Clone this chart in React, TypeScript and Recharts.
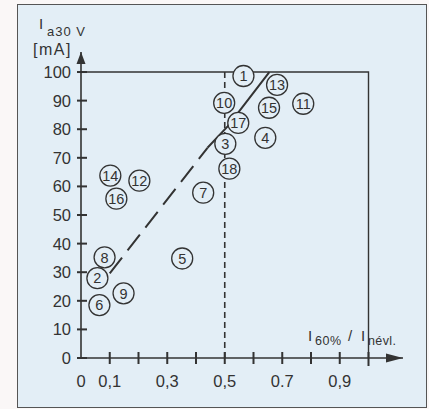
import { ComposedChart, Line, Scatter, XAxis, YAxis, ReferenceDot } from 'recharts';

// tengely osztások
const xTicks = [0, 0.1, 0.2, 0.3, 0.4, 0.5, 0.6, 0.7, 0.8, 0.9, 1.0];
const xTickLabels = ['0', '0,1', '', '0,3', '', '0,5', '', '0.7', '', '0,9', ''];
const yTicks = [0, 10, 20, 30, 40, 50, 60, 70, 80, 90, 100];

// mért pontok (sorszám, I60%/Inévl, Ia30V)
const pointIds = [1, 2, 3, 4, 5, 6, 7, 8, 9, 10, 11, 12, 13, 14, 15, 16, 17, 18];
const pointX = [0.565, 0.057, 0.502, 0.641, 0.352, 0.064, 0.425, 0.082, 0.148, 0.498, 0.773, 0.203, 0.682, 0.102, 0.654, 0.123, 0.547, 0.516];
const pointY = [98.6, 27.9, 74.9, 77, 34.8, 18.5, 57.8, 35.2, 22.6, 89.2, 88.9, 62, 95.5, 63.8, 87.5, 55.7, 82.2, 66.2];

// határvonalak
const frameLine = [
  { x: 0, y: 100 },
  { x: 1, y: 100 },
  { x: 1, y: 0 },
];
const halfLine = [
  { x: 0.5, y: 0 },
  { x: 0.5, y: 100 },
];
const dashedTrend = [
  { x: 0.1, y: 29.6 },
  { x: 0.44, y: 73.5 },
];
const solidTrend = [
  { x: 0.44, y: 73.5 },
  { x: 0.51, y: 81 },
  { x: 0.655, y: 100 },
];

const points = pointIds.map((id, i) => ({ id, x: pointX[i], y: pointY[i] }));

const ink = '#333333';
const bg = '#e3eef6';
const font = '"Liberation Sans", Arial, sans-serif';

function XTick(props: any) {
  const { x, y, payload } = props;
  const i = xTicks.indexOf(payload.value);
  const label = xTickLabels[i];
  return (
    <g>
      {payload.value > 0 && (
        <rect x={x - 1} y={y - 6} width={2} height={payload.value === 1 ? 14 : 12} fill={ink} />
      )}
      {label && (
        <text x={x} y={y + 29} textAnchor="middle" fontSize={16.5} fill={ink} fontFamily={font}>
          {label}
        </text>
      )}
    </g>
  );
}

function YTick(props: any) {
  const { x, y, payload } = props;
  return (
    <g>
      <rect x={x - 4} y={y - 1} width={10} height={2} fill={ink} />
      <text x={x - 10} y={y + 6} textAnchor="end" fontSize={16.5} fill={ink} fontFamily={font}>
        {payload.value}
      </text>
    </g>
  );
}

function Bubble(props: any) {
  const { cx, cy, payload } = props;
  return (
    <g>
      <circle cx={cx} cy={cy} r={10.5} fill={bg} stroke={ink} strokeWidth={1.3} />
      <text x={cx} y={cy + 5.2} textAnchor="middle" fontSize={14.5} fill={ink} fontFamily={font}>
        {payload.id}
      </text>
    </g>
  );
}

function UpArrow(props: any) {
  const { cx, cy } = props;
  return <path d={`M${cx},${cy} L${cx - 4.5},${cy + 12} L${cx + 4.5},${cy + 12} Z`} fill={ink} />;
}

function RightArrow(props: any) {
  const { cx, cy } = props;
  return <path d={`M${cx},${cy} L${cx - 17},${cy - 4.5} L${cx - 17},${cy + 4.5} Z`} fill={ink} />;
}

export default function App() {
  return (
    <div style={{ width: 429, height: 409, background: '#faf7f7', position: 'relative', fontFamily: font }}>
      <style>{'body{margin:0}'}</style>
      <div
        style={{
          position: 'absolute',
          left: 17,
          top: 4,
          width: 408,
          height: 402,
          background: bg,
          border: '1.5px solid #555',
        }}
      />
      <div style={{ position: 'absolute', left: 0, top: 0 }}>
        <ComposedChart width={429} height={409} margin={{ top: 52, right: 26, left: 80, bottom: 50 }}>
          <XAxis
            dataKey="x"
            type="number"
            domain={[0, 1.12]}
            ticks={xTicks}
            interval={0}
            height={1}
            tickSize={0}
            tickMargin={0}
            tickLine={false}
            tick={<XTick />}
            axisLine={{ stroke: ink, strokeWidth: 1.6 }}
            allowDataOverflow
          />
          <YAxis
            dataKey="y"
            type="number"
            domain={[0, 107]}
            ticks={yTicks}
            interval={0}
            width={1}
            tickSize={0}
            tickMargin={0}
            tickLine={false}
            tick={<YTick />}
            axisLine={{ stroke: ink, strokeWidth: 1.6 }}
            allowDataOverflow
          />
          <Line data={frameLine} dataKey="y" stroke={ink} strokeWidth={1.4} dot={false} activeDot={false} isAnimationActive={false} />
          <Line data={halfLine} dataKey="y" stroke={ink} strokeWidth={1.6} strokeDasharray="6 4" dot={false} activeDot={false} isAnimationActive={false} />
          <Line data={dashedTrend} dataKey="y" stroke={ink} strokeWidth={2} strokeDasharray="20 9" dot={false} activeDot={false} isAnimationActive={false} />
          <Line data={solidTrend} dataKey="y" stroke={ink} strokeWidth={2} dot={false} activeDot={false} isAnimationActive={false} />
          <Scatter data={points} dataKey="y" shape={<Bubble />} isAnimationActive={false} />
          <ReferenceDot x={0} y={107} r={0} shape={<UpArrow />} ifOverflow="visible" />
          <ReferenceDot x={1.12} y={0} r={0} shape={<RightArrow />} ifOverflow="visible" />
        </ComposedChart>
      </div>
      <svg width={429} height={409} style={{ position: 'absolute', left: 0, top: 0, pointerEvents: 'none' }}>
        <g fill={ink} fontFamily={font}>
          <text x={39} y={29} fontSize={15}>I</text>
          <text x={47} y={36} fontSize={13} letterSpacing={1}>a30 V</text>
          <text x={33} y={55} fontSize={16} letterSpacing={1.5}>[mA]</text>
          <text x={308} y={341} fontSize={15}>I</text>
          <text x={315} y={345} fontSize={12.5} letterSpacing={0.5}>60%</text>
          <text x={348} y={341} fontSize={15}>/</text>
          <text x={361} y={341} fontSize={15}>I</text>
          <text x={368} y={345} fontSize={12.5} letterSpacing={0.4}>névl.</text>
        </g>
      </svg>
    </div>
  );
}
